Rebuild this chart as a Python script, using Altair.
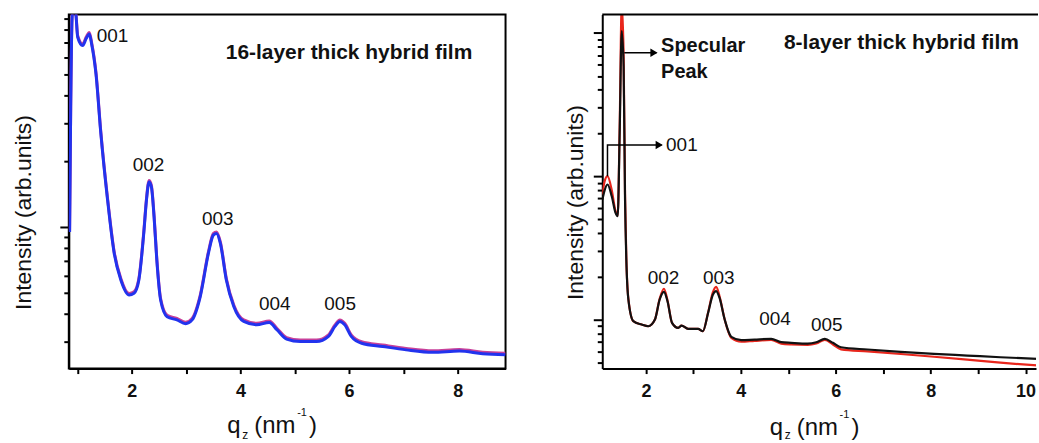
import altair as alt
import pandas as pd

FONT = "Liberation Sans"

# ---------------- Left panel: 16-layer film ----------------
q16 = [0.855, 0.875, 0.90, 0.935, 0.97, 1.004, 1.095, 1.16, 1.217, 1.26, 1.34, 1.43,
       1.554, 1.676, 1.798, 1.951, 2.04, 2.13, 2.22, 2.27, 2.318, 2.36, 2.41, 2.46,
       2.53, 2.65, 2.83, 2.99, 3.11, 3.26, 3.41, 3.50, 3.56, 3.63, 3.74, 3.877,
       4.06, 4.30, 4.53, 4.67, 4.85, 5.10, 5.40, 5.62, 5.74, 5.83, 5.92, 6.04,
       6.23, 6.62, 7.05, 7.54, 8.03, 8.46, 8.88]
I16 = [0.95, 3.5, 9.0, 11.0, 9.5, 7.4, 6.78, 7.3, 7.66, 6.9, 5.03, 2.68,
       1.33, 0.758, 0.573, 0.489, 0.498, 0.573, 0.936, 1.33, 1.61, 1.53, 1.11, 0.707,
       0.464, 0.389, 0.376, 0.361, 0.376, 0.481, 0.758, 0.919, 0.936, 0.843, 0.573, 0.433,
       0.370, 0.357, 0.366, 0.339, 0.307, 0.299, 0.299, 0.316, 0.351, 0.370, 0.357, 0.316,
       0.294, 0.284, 0.274, 0.267, 0.271, 0.263, 0.260]

peaks16_text = ["001", "002", "003", "004", "005"]
peaks16_q = [1.646, 2.306, 3.584, 4.63, 5.835]
peaks16_I = [7.53, 1.92, 1.088, 0.445, 0.445]

# ---------------- Right panel: 8-layer film ----------------
q8 = [1.083, 1.125, 1.19, 1.28, 1.36, 1.405, 1.447, 1.49, 1.53, 1.56, 1.587, 1.63,
      1.734, 1.91, 2.05, 2.19, 2.29, 2.38, 2.455, 2.55, 2.68, 2.75, 2.89, 3.10,
      3.20, 3.31, 3.41, 3.48, 3.55, 3.66, 3.80, 4.01, 4.29, 4.64, 4.85, 5.06,
      5.41, 5.59, 5.77, 5.94, 6.11, 6.67, 7.37, 8.07, 8.77, 9.47, 10.25]
I8_black = [6.87, 7.86, 8.75, 7.25, 5.55, 5.26, 20, 103, 58.5, 6.87, 2.62, 1.38,
            0.974, 0.923, 0.898, 1.0, 1.38, 1.56, 1.34, 0.948, 0.875, 0.908, 0.861, 0.861,
            0.829, 1.11, 1.49, 1.58, 1.42, 1.0, 0.757, 0.718, 0.725, 0.733, 0.695, 0.688,
            0.680, 0.695, 0.733, 0.688, 0.641, 0.618, 0.595, 0.576, 0.561, 0.546, 0.532]
I8_red = [7.45, 9.08, 10.0, 7.99, 5.7, 5.3, 22, 160, 70, 7.5, 2.7, 1.4,
          0.974, 0.923, 0.898, 1.0, 1.40, 1.64, 1.36, 0.948, 0.875, 0.908, 0.861, 0.861,
          0.829, 1.12, 1.55, 1.69, 1.46, 1.0, 0.745, 0.70, 0.71, 0.72, 0.68, 0.67,
          0.665, 0.68, 0.72, 0.67, 0.62, 0.60, 0.575, 0.55, 0.525, 0.50, 0.478]

peaks8_text = ["002", "003", "004", "005"]
peaks8_q = [2.37, 3.534, 4.72, 5.81]
peaks8_I = [1.954, 1.954, 1.01, 0.923]

# arrows (data coordinates)
arrow_id = ["spec", "spec", "p001", "p001", "p001"]
arrow_q = [1.544, 2.22, 1.19, 1.19, 2.33]
arrow_I = [72.6, 72.6, 10.0, 16.5, 16.5]
arrow_order = [0, 1, 0, 1, 2]
head_q = [2.17, 2.28]
head_I = [72.6, 16.5]

# ---------------- scales / axes ----------------
W_L, W_R, H = 438, 435, 355
xs_l = alt.Scale(domain=[0.84, 8.88], nice=False, zero=False)
ys_l = alt.Scale(type="log", domain=[0.225, 9.4], nice=False)
xs_r = alt.Scale(domain=[1.08, 10.22], nice=False, zero=False)
ys_r = alt.Scale(type="log", domain=[0.455, 134], nice=False)

yvals_l = [0.3, 0.4, 0.5, 0.6, 0.7, 0.8, 0.9, 1, 2, 3, 4, 5, 6, 7, 8, 9]
yvals_r = [0.5, 0.6, 0.7, 0.8, 0.9, 1, 2, 3, 4, 5, 6, 7, 8, 9,
           10, 20, 30, 40, 50, 60, 70, 80, 90, 100]

major_tick = {"condition": {"test": "datum.value === 1 || datum.value === 10 || datum.value === 100",
                            "value": 9}, "value": 5}


def x_axis(vals):
    return alt.Axis(values=vals, labelExpr="datum.value % 2 === 0 ? datum.label : ''",
                    title=None, grid=False, tickSize=5, labelPadding=9)


def y_axis(vals, tx, ty):
    return alt.Axis(values=vals, labels=False, grid=False, tickSize=major_tick,
                    title="Intensity (arb.units)", titleX=tx, titleY=ty,
                    titleBaseline="middle", titleAngle=270)


XA_L = x_axis([1, 2, 3, 4, 5, 6, 7, 8])
YA_L = y_axis(yvals_l, -45, 198)
XA_R = x_axis([2, 3, 4, 5, 6, 7, 8, 9, 10])
YA_R = y_axis(yvals_r, -27, 188)


def px_text(txt, x, y, size, weight="normal", align="left", baseline="alphabetic"):
    return alt.Chart(pd.DataFrame({"t": [txt]})).mark_text(
        font=FONT, fontSize=size, fontWeight=weight, align=align, baseline=baseline,
        color="#111111"
    ).encode(text="t:N", x=alt.value(x), y=alt.value(y))


def x_title(x0, yb, zb):
    return [
        px_text("q", x0, yb, 24),
        px_text("z", x0 + 15, zb, 12),
        px_text("(nm", x0 + 27, yb, 24),
        px_text("-1", x0 + 70, yb - 17, 11),
        px_text(")", x0 + 82, yb, 24),
    ]


def enc(xs, ys, xa, ya):
    return dict(x=alt.X("q:Q", scale=xs, axis=xa), y=alt.Y("I:Q", scale=ys, axis=ya))


# ---------------- left chart ----------------
df16 = pd.DataFrame({"q": q16, "I": I16})
lab16 = pd.DataFrame({"q": peaks16_q, "I": peaks16_I, "t": peaks16_text})
EL = enc(xs_l, ys_l, XA_L, YA_L)

under16 = alt.Chart(df16).mark_line(color="#c8409a", strokeWidth=3, clip=True, yOffset=-1.5,
                                    interpolate="monotone").encode(**EL)
blue16 = alt.Chart(df16).mark_line(color="#2233ee", strokeWidth=3, clip=True,
                                   interpolate="monotone").encode(**EL)
text16 = alt.Chart(lab16).mark_text(font=FONT, fontSize=19, color="#111111",
                                    align="center", baseline="middle").encode(
    text="t:N", **EL)
title16 = px_text("16-layer thick hybrid film", 281, 39, 21, "bold", "center", "middle")

left = alt.layer(under16, blue16, text16, title16, *x_title(159, 420, 426)).properties(
    width=W_L, height=H, view=alt.ViewBackground(stroke="black", strokeWidth=2)
)

# ---------------- right chart ----------------
df8 = pd.DataFrame({"q": q8 + q8, "I": I8_red + I8_black,
                    "s": ["red"] * len(q8) + ["black"] * len(q8)})
lab8 = pd.DataFrame({"q": peaks8_q, "I": peaks8_I, "t": peaks8_text})
arr = pd.DataFrame({"id": arrow_id, "q": arrow_q, "I": arrow_I, "o": arrow_order})
heads = pd.DataFrame({"q": head_q, "I": head_I})
ER = enc(xs_r, ys_r, XA_R, YA_R)

red8 = alt.Chart(df8).transform_filter("datum.s === 'red'").mark_line(
    color="#e8261c", strokeWidth=2.2, clip=True, interpolate="monotone").encode(**ER)
black8 = alt.Chart(df8).transform_filter("datum.s === 'black'").mark_line(
    color="#111111", strokeWidth=2.2, clip=True, interpolate="monotone").encode(**ER)
text8 = alt.Chart(lab8).mark_text(font=FONT, fontSize=19, color="#111111",
                                  align="center", baseline="middle").encode(text="t:N", **ER)
arrows = alt.Chart(arr).mark_line(color="black", strokeWidth=1.5).encode(
    detail="id:N", order="o:Q", **ER)
arrowheads = alt.Chart(heads).mark_point(shape="triangle-right", filled=True, size=70,
                                         color="black", opacity=1).encode(**ER)
top_line = alt.Chart(pd.DataFrame({"a": [0]})).mark_rule(color="black", strokeWidth=2).encode(
    x=alt.value(0), x2=alt.value(W_R + 2), y=alt.value(0)
)
ann8 = [
    px_text("Specular", 59, 32, 20, "bold", "left", "middle"),
    px_text("Peak", 59, 58, 20, "bold", "left", "middle"),
    px_text("001", 64, 131, 19, "normal", "left", "middle"),
    px_text("8-layer thick hybrid film", 300, 29, 21, "bold", "center", "middle"),
]

right = alt.layer(red8, black8, text8, arrows, arrowheads, top_line, *ann8,
                  *x_title(168, 422, 426)).properties(
    width=W_R, height=H, view=alt.ViewBackground(strokeOpacity=0)
)

chart = alt.hconcat(left, right, spacing=58).properties(
    padding={"left": 12, "top": 13, "right": 0, "bottom": 0},
    background="white",
).configure_axis(
    domainColor="black", domainWidth=2, tickColor="black", tickWidth=2,
    labelFont=FONT, labelFontSize=18, labelFontWeight="bold", labelColor="#111111",
    titleFont=FONT, titleFontSize=23, titleFontWeight="normal", titleColor="#111111",
)

chart.save("out.html", embed_options={"renderer": "svg", "actions": False})
